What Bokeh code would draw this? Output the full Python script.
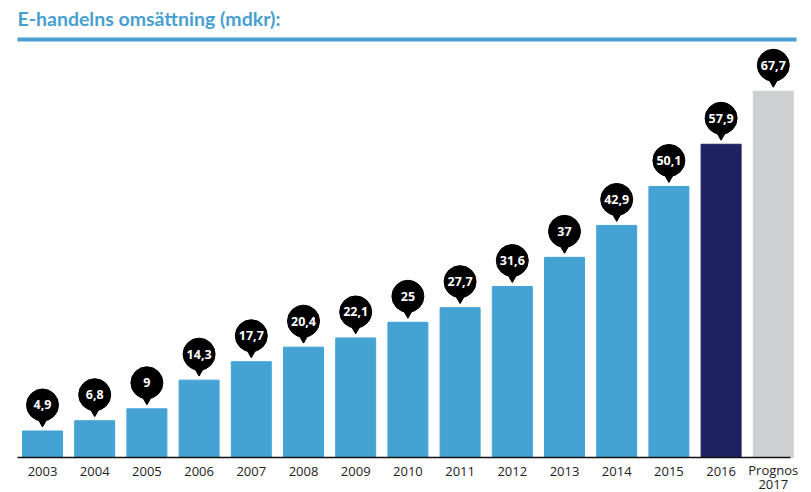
import numpy as np
from bokeh.plotting import figure
from bokeh.models import Range1d, ColumnDataSource
from bokeh.core.properties import value
from bokeh.embed import file_html
from bokeh.resources import INLINE

# ---- data ----
title_text = "E-handelns omsättning (mdkr):"
categories = ["2003", "2004", "2005", "2006", "2007", "2008", "2009", "2010",
              "2011", "2012", "2013", "2014", "2015", "2016", "Prognos 2017"]
tick_line1 = ["2003", "2004", "2005", "2006", "2007", "2008", "2009", "2010",
              "2011", "2012", "2013", "2014", "2015", "2016", "Prognos"]
tick_line2 = ["", "", "", "", "", "", "", "", "", "", "", "", "", "", "2017"]
values = [4.9, 6.8, 9, 14.3, 17.7, 20.4, 22.1, 25, 27.7, 31.6, 37, 42.9, 50.1, 57.9, 67.7]
value_labels = ["4,9", "6,8", "9", "14,3", "17,7", "20,4", "22,1", "25", "27,7",
                "31,6", "37", "42,9", "50,1", "57,9", "67,7"]

# ---- styles ----
LIGHT = "#45a3d4"
NAVY = "#1f2260"
GREY = "#cecfd1"
bar_colors = [LIGHT] * 13 + [NAVY, GREY]
PX_X = 52.2   # pixels per category step
PX_Y = 5.41   # pixels per value unit
W, H = 811, 492
X0, Y0 = 42, 457   # pixel position of first category / zero line

idx = np.arange(len(categories))
vals = np.array(values, dtype=float)
n = len(categories)
y_t1 = np.array([(Y0 - 470.5) / PX_Y] * (n - 1) + [(Y0 - 469) / PX_Y])
y_t2 = np.full(n, (Y0 - 484) / PX_Y)

p = figure(width=W, height=H, output_backend="svg", toolbar_location=None,
           x_range=Range1d((0 - X0) / PX_X, (W - X0) / PX_X),
           y_range=Range1d((Y0 - H) / PX_Y, (Y0 - 0) / PX_Y),
           min_border=0)
p.axis.visible = False
p.grid.visible = False
p.outline_line_color = None
p.background_fill_color = "white"
p.border_fill_color = "white"

src = ColumnDataSource(dict(x=idx, top=vals, color=bar_colors, lab=value_labels,
                            t1=tick_line1, t2=tick_line2, yt1=y_t1, yt2=y_t2,
                            bub=vals + 26 / PX_Y, tri=vals + 9.8 / PX_Y))

p.vbar(x="x", top="top", bottom=0, width=40 / PX_X, color="color", source=src)

# baseline
p.segment(x0=[(17 - X0) / PX_X], x1=[(790 - X0) / PX_X], y0=[0], y1=[0],
          line_color="#111111", line_width=1.5)

# bubbles
p.scatter(x="x", y="tri", marker="inverted_triangle", size=10, color="black", source=src)
p.scatter(x="x", y="bub", marker="circle", size=32, color="black", source=src)
p.text(x="x", y="bub", text="lab", text_color="white", text_font=value("Open Sans"),
       text_font_style="bold", text_font_size="12.5px", text_align="center",
       text_baseline="middle", source=src)

# tick labels
p.text(x="x", y="yt1", text="t1",
       source=src, text_color="#222222", text_font=value("Open Sans"),
       text_font_size="13px", text_align="center", text_baseline="middle")
p.text(x="x", y="yt2", text="t2",
       source=src, text_color="#222222", text_font=value("Open Sans"),
       text_font_size="13px", text_align="center", text_baseline="middle")

# title and rule
p.text(x=[(17 - X0) / PX_X], y=[(Y0 - 18) / PX_Y], text=[title_text],
       text_color="#479fd1", text_font=value("Lato"), text_font_style="bold",
       text_font_size="19.5px", text_align="left", text_baseline="middle")
p.segment(x0=[(17 - X0) / PX_X], x1=[(796 - X0) / PX_X],
          y0=[(Y0 - 39) / PX_Y], y1=[(Y0 - 39) / PX_Y],
          line_color="#4aa0d0", line_width=4, line_cap="butt")

open("out.html", "w").write(file_html(p, INLINE))
